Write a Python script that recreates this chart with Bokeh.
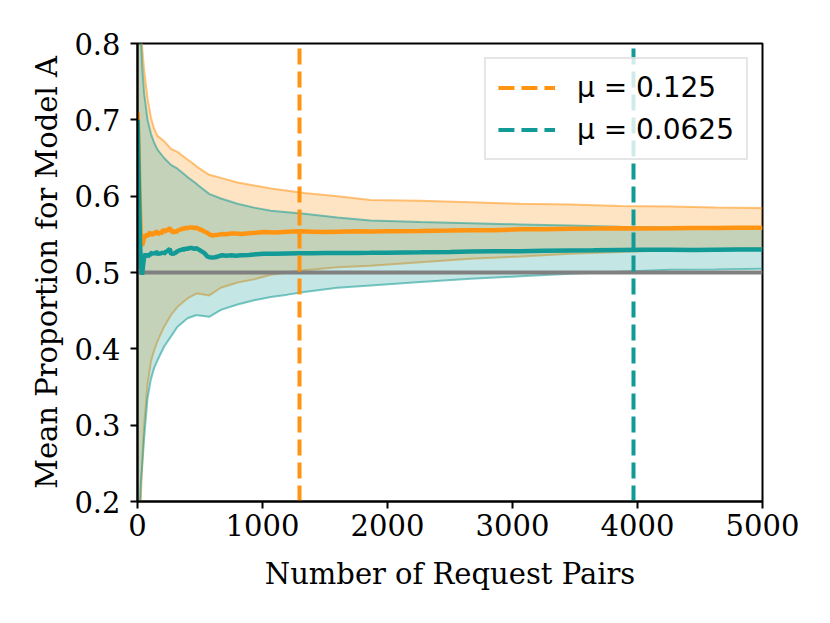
from bokeh.plotting import figure
from bokeh.models import Legend, LegendItem, FixedTicker, Range1d
from bokeh.embed import file_html
from bokeh.resources import INLINE

# ---------------- data ----------------
x_limits = [0, 5000]
y_limits = [0.2, 0.8]
x_ticks = [0, 1000, 2000, 3000, 4000, 5000]
y_ticks = [0.2, 0.3, 0.4, 0.5, 0.6, 0.7, 0.8]
null_value = 0.5

band_x = [1, 10, 21, 27, 37, 53, 80, 107, 133, 160, 213, 267, 320, 400, 467,
          480, 573, 667, 800, 933, 1067, 1200, 1333, 1600, 1864, 2264, 2664,
          3064, 3464, 3864, 4264, 4624, 5000]
orange_upper = [1.0, 0.95, 0.87, 0.83, 0.795, 0.765, 0.728, 0.703, 0.688, 0.679,
                0.672, 0.662, 0.658, 0.648, 0.640, 0.638, 0.628, 0.624, 0.618,
                0.614, 0.610, 0.607, 0.604, 0.600, 0.595, 0.594, 0.592, 0.590,
                0.589, 0.587, 0.5865, 0.585, 0.5845]
orange_lower = [0.0, 0.08, 0.17, 0.205, 0.25, 0.300, 0.353, 0.383, 0.398, 0.410,
                0.429, 0.444, 0.455, 0.466, 0.472, 0.4725, 0.470, 0.480, 0.487,
                0.491, 0.497, 0.500, 0.503, 0.507, 0.509, 0.5135, 0.518, 0.521,
                0.5245, 0.527, 0.529, 0.5305, 0.532]
teal_upper = [1.0, 0.93, 0.85, 0.81, 0.77, 0.735, 0.700, 0.682, 0.670, 0.661,
              0.650, 0.641, 0.636, 0.625, 0.617, 0.615, 0.603, 0.597, 0.590,
              0.585, 0.581, 0.579, 0.577, 0.572, 0.568, 0.566, 0.5645, 0.563,
              0.5616, 0.560, 0.559, 0.5585, 0.558]
teal_lower = [0.0, 0.08, 0.20, 0.225, 0.245, 0.283, 0.335, 0.360, 0.375, 0.385,
              0.403, 0.416, 0.429, 0.440, 0.444, 0.444, 0.442, 0.451, 0.458,
              0.4637, 0.468, 0.471, 0.4745, 0.480, 0.483, 0.4875, 0.4918, 0.495,
              0.4983, 0.501, 0.5035, 0.504, 0.5048]

mean_x = [1, 5, 12, 20, 27, 37, 45, 51, 58, 64, 70, 77, 84, 91, 100, 108, 117,
          124, 131, 140, 148, 157, 164, 171, 180, 188, 197, 204, 211, 220, 228,
          237, 244, 251, 258, 264, 270, 277, 284, 291, 300, 308, 317, 324, 331,
          340, 350, 360, 371, 384, 400, 415, 437, 455, 470, 491, 510, 530, 544,
          557, 575, 597, 620, 645, 677, 710, 750, 784, 830, 891, 950, 1011,
          1100, 1200, 1300, 1400, 1500, 1600, 1750, 1864, 2000, 2264, 2500,
          2664, 2850, 3064, 3250, 3464, 3650, 3864, 4050, 4264, 4450, 4624,
          4800, 5000]
orange_mean = [0.71, 0.68, 0.63, 0.58, 0.545, 0.535, 0.54, 0.544, 0.547, 0.549,
               0.546, 0.551, 0.548, 0.550, 0.553, 0.549, 0.551, 0.548, 0.553,
               0.551, 0.554, 0.553, 0.550, 0.551, 0.553, 0.551, 0.553, 0.556,
               0.555, 0.553, 0.555, 0.556, 0.554, 0.557, 0.558, 0.557, 0.555,
               0.554, 0.552, 0.553, 0.555, 0.553, 0.554, 0.556, 0.555, 0.557,
               0.556, 0.558, 0.557, 0.5586, 0.558, 0.559, 0.559, 0.558, 0.559,
               0.557, 0.556, 0.554, 0.553, 0.552, 0.550, 0.5486, 0.549, 0.5495,
               0.5503, 0.550, 0.551, 0.551, 0.5505, 0.5515, 0.552, 0.553, 0.5525,
               0.5535, 0.554, 0.5535, 0.553, 0.5535, 0.554, 0.5537, 0.554,
               0.5545, 0.555, 0.5555, 0.5555, 0.5565, 0.5568, 0.5572, 0.5575,
               0.558, 0.5578, 0.558, 0.5583, 0.5583, 0.5585, 0.5585]
teal_mean = [0.70, 0.66, 0.60, 0.54, 0.51, 0.497, 0.51, 0.518, 0.522, 0.5247,
             0.521, 0.523, 0.520, 0.5247, 0.522, 0.525, 0.526, 0.523, 0.527,
             0.524, 0.527, 0.526, 0.523, 0.5255, 0.524, 0.526, 0.525, 0.527,
             0.5245, 0.526, 0.528, 0.527, 0.529, 0.530, 0.531, 0.527, 0.524,
             0.525, 0.523, 0.526, 0.525, 0.527, 0.527, 0.529, 0.528, 0.530,
             0.529, 0.531, 0.530, 0.531, 0.531, 0.532, 0.532, 0.531, 0.532,
             0.530, 0.528, 0.526, 0.524, 0.521, 0.520, 0.5195, 0.520, 0.521,
             0.5226, 0.522, 0.5225, 0.522, 0.5225, 0.523, 0.524, 0.5247, 0.5245,
             0.525, 0.5252, 0.5252, 0.5255, 0.5255, 0.5257, 0.5258, 0.526,
             0.5265, 0.527, 0.5275, 0.5278, 0.528, 0.5285, 0.5288, 0.529,
             0.5295, 0.5298, 0.5297, 0.5295, 0.5299, 0.530, 0.530]

mu_labels = ["μ = 0.125", "μ = 0.0625"]
stop_x = [1296, 3968]

ORANGE = "#ff9412"
TEAL = "#129a96"
GRAY = "#808080"
SERIF = "DejaVu Serif"

# ---------------- figure ----------------
p = figure(width=822, height=615,
           x_range=Range1d(*x_limits), y_range=Range1d(*y_limits),
           output_backend="svg", toolbar_location=None,
           min_border_left=137, min_border_right=60,
           min_border_top=43, min_border_bottom=114)
p.grid.visible = False
p.outline_line_color = "black"
p.outline_line_width = 2
p.background_fill_color = "white"
p.border_fill_color = "white"

# bands
p.varea(x=band_x, y1=orange_lower, y2=orange_upper, fill_color=ORANGE, fill_alpha=0.25)
p.line(band_x, orange_upper, line_color=ORANGE, line_width=2, line_alpha=0.55)
p.line(band_x, orange_lower, line_color=ORANGE, line_width=2, line_alpha=0.55)
p.varea(x=band_x, y1=teal_lower, y2=teal_upper, fill_color=TEAL, fill_alpha=0.25)
p.line(band_x, teal_upper, line_color=TEAL, line_width=2, line_alpha=0.55)
p.line(band_x, teal_lower, line_color=TEAL, line_width=2, line_alpha=0.55)

# null line
p.line(x_limits, [null_value, null_value], line_color=GRAY, line_width=4)

# means
p.line(mean_x, orange_mean, line_color=ORANGE, line_width=4.5)
p.line(mean_x, teal_mean, line_color=TEAL, line_width=4.5)

# stopping lines
r1 = p.segment(x0=[stop_x[0]], y0=[y_limits[0]], x1=[stop_x[0]], y1=[y_limits[1]],
               line_color=ORANGE, line_width=4, line_dash="16 7")
r2 = p.segment(x0=[stop_x[1]], y0=[y_limits[0]], x1=[stop_x[1]], y1=[y_limits[1]],
               line_color=TEAL, line_width=4, line_dash="16 7")

legend = Legend(items=[LegendItem(label=mu_labels[0], renderers=[r1]),
                       LegendItem(label=mu_labels[1], renderers=[r2])],
                location="top_right")
legend.margin = 14
legend.padding = 12
legend.spacing = 9
legend.label_height = 33
legend.glyph_height = 33
legend.glyph_width = 57
legend.label_standoff = 22
legend.label_text_font = "DejaVu Sans"
legend.label_text_font_size = "28px"
legend.label_text_color = "black"
legend.border_line_color = "#cccccc"
legend.border_line_width = 2
legend.background_fill_alpha = 0.8
p.add_layout(legend)

# axes
p.xaxis.ticker = FixedTicker(ticks=x_ticks)
p.yaxis.ticker = FixedTicker(ticks=y_ticks)
p.xaxis.axis_label = "Number of Request Pairs"
p.yaxis.axis_label = "Mean Proportion for Model A"
for ax in (p.xaxis[0], p.yaxis[0]):
    ax.major_label_text_font = SERIF
    ax.major_label_text_font_size = "29px"
    ax.major_label_text_color = "black"
    ax.axis_label_text_font = SERIF
    ax.axis_label_text_font_size = "29px"
    ax.axis_label_text_font_style = "normal"
    ax.axis_label_text_color = "black"
    ax.major_tick_in = 0
    ax.major_tick_out = 7
    ax.major_tick_line_width = 2
    ax.minor_tick_line_color = None
    ax.axis_line_width = 2
    ax.axis_line_color = "black"
    ax.major_tick_line_color = "black"
p.xaxis.major_label_standoff = 5
p.xaxis.axis_label_standoff = 18
p.yaxis.major_label_standoff = 10
p.yaxis.axis_label_standoff = 7

open("out.html", "w").write(file_html(p, INLINE))
